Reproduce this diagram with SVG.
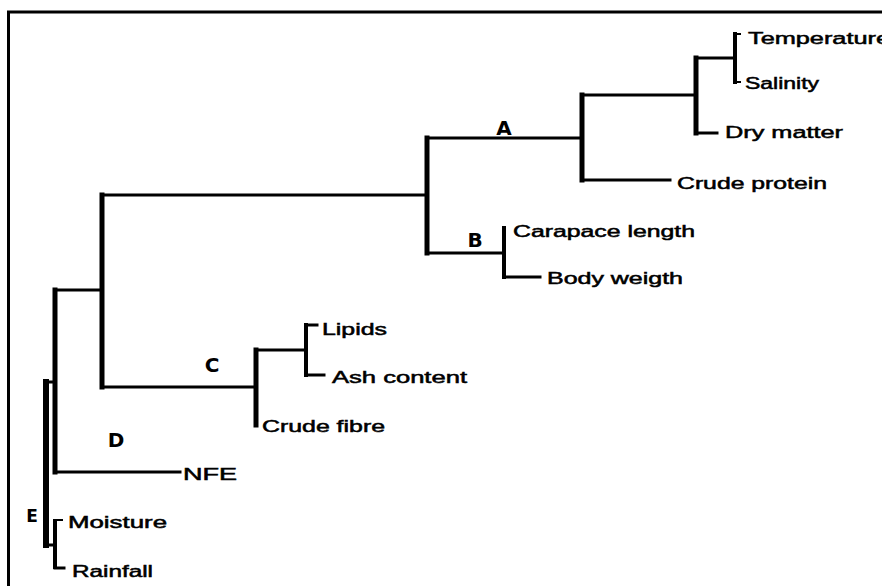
<svg xmlns="http://www.w3.org/2000/svg" width="882" height="586" viewBox="0 0 882 586">
<style>
  .lbl { font-family: "Liberation Sans", Arial, sans-serif; font-size: 16px; fill: #000; stroke: #000; stroke-width: 0.5; }
  .clade { font-family: "DejaVu Sans", Verdana, sans-serif; font-weight: bold; font-size: 20px; fill: #000; text-anchor: middle; }
  .h { stroke: #000; stroke-width: 3; fill: none; stroke-linecap: square; }
  .v { stroke: #000; stroke-width: 5; fill: none; stroke-linecap: square; }
</style>
<rect x="0" y="0" width="882" height="586" fill="#fff"/>
<path d="M8.5,586 V12 H882" fill="none" stroke="#000" stroke-width="3"/>
<g id="connectors">
  <!-- E -->
  <line class="v" x1="46" y1="382" x2="46" y2="545" style="stroke-width:6"/>
  <line class="h" x1="46" y1="382" x2="55" y2="382"/>
  <line class="h" x1="46" y1="545" x2="55" y2="545"/>
  <!-- Moisture / Rainfall -->
  <line class="v" x1="55" y1="521" x2="55" y2="567" style="stroke-width:4"/>
  <line class="h" x1="55" y1="520" x2="62" y2="520" style="stroke-width:2"/>
  <line class="h" x1="55" y1="568" x2="64" y2="568"/>
  <!-- D -->
  <line class="v" x1="55" y1="290" x2="55" y2="472"/>
  <line class="h" x1="55" y1="290" x2="102" y2="290"/>
  <line class="h" x1="55" y1="472" x2="180" y2="472"/>
  <!-- main -->
  <line class="v" x1="102" y1="195" x2="102" y2="387"/>
  <line class="h" x1="102" y1="195" x2="427" y2="195"/>
  <line class="h" x1="102" y1="387" x2="256" y2="387"/>
  <!-- C -->
  <line class="v" x1="256" y1="350" x2="256" y2="425"/>
  <line class="h" x1="256" y1="350" x2="306" y2="350"/>
  <line class="v" x1="306" y1="325" x2="306" y2="375" style="stroke-width:4"/>
  <line class="h" x1="306" y1="325" x2="317" y2="325"/>
  <line class="h" x1="306" y1="375" x2="324" y2="375"/>
  <!-- A/B -->
  <line class="v" x1="427" y1="138" x2="427" y2="253"/>
  <line class="h" x1="427" y1="138" x2="582" y2="138"/>
  <line class="h" x1="427" y1="253" x2="504" y2="253"/>
  <!-- B -->
  <line class="v" x1="504" y1="228" x2="504" y2="277" style="stroke-width:4"/>
  <line class="h" x1="504" y1="277" x2="540" y2="277"/>
  <!-- A -->
  <line class="v" x1="582" y1="95" x2="582" y2="180"/>
  <line class="h" x1="582" y1="95" x2="696" y2="95"/>
  <line class="h" x1="582" y1="180" x2="670" y2="180"/>
  <line class="v" x1="696" y1="58" x2="696" y2="133"/>
  <line class="h" x1="696" y1="58" x2="735" y2="58"/>
  <line class="h" x1="696" y1="133" x2="717" y2="133"/>
  <line class="v" x1="735" y1="34" x2="735" y2="82" style="stroke-width:4"/>
  <line class="h" x1="735" y1="34" x2="740" y2="34" style="stroke-width:2"/>
  <line class="h" x1="735" y1="82" x2="740" y2="82" style="stroke-width:2"/>
</g>
<g id="node-temperature"><text class="lbl" x="748" y="44" textLength="142" lengthAdjust="spacingAndGlyphs">Temperature</text></g>
<g id="node-salinity"><text class="lbl" x="745" y="89" textLength="74" lengthAdjust="spacingAndGlyphs">Salinity</text></g>
<g id="node-drymatter"><text class="lbl" x="725" y="138" textLength="118" lengthAdjust="spacingAndGlyphs">Dry matter</text></g>
<g id="node-crudeprotein"><text class="lbl" x="677" y="189" textLength="150" lengthAdjust="spacingAndGlyphs">Crude protein</text></g>
<g id="node-carapace"><text class="lbl" x="513" y="237" textLength="182" lengthAdjust="spacingAndGlyphs">Carapace length</text></g>
<g id="node-bodyweigth"><text class="lbl" x="547" y="284" textLength="136" lengthAdjust="spacingAndGlyphs">Body weigth</text></g>
<g id="node-lipids"><text class="lbl" x="322" y="335" textLength="65" lengthAdjust="spacingAndGlyphs">Lipids</text></g>
<g id="node-ash"><text class="lbl" x="332" y="383" textLength="135" lengthAdjust="spacingAndGlyphs">Ash content</text></g>
<g id="node-crudefibre"><text class="lbl" x="262" y="432" textLength="123" lengthAdjust="spacingAndGlyphs">Crude fibre</text></g>
<g id="node-nfe"><text class="lbl" x="183" y="480" textLength="54" lengthAdjust="spacingAndGlyphs">NFE</text></g>
<g id="node-moisture"><text class="lbl" x="68" y="528" textLength="99" lengthAdjust="spacingAndGlyphs">Moisture</text></g>
<g id="node-rainfall"><text class="lbl" x="72" y="577" textLength="81" lengthAdjust="spacingAndGlyphs">Rainfall</text></g>
<g id="clade-A"><text class="clade" x="504" y="135">A</text></g>
<g id="clade-B"><text class="clade" x="475" y="247">B</text></g>
<g id="clade-C"><text class="clade" x="212" y="372">C</text></g>
<g id="clade-D"><text class="clade" x="116" y="447">D</text></g>
<g id="clade-E"><text class="clade" x="32" y="522" style="font-size:17px">E</text></g>
</svg>
